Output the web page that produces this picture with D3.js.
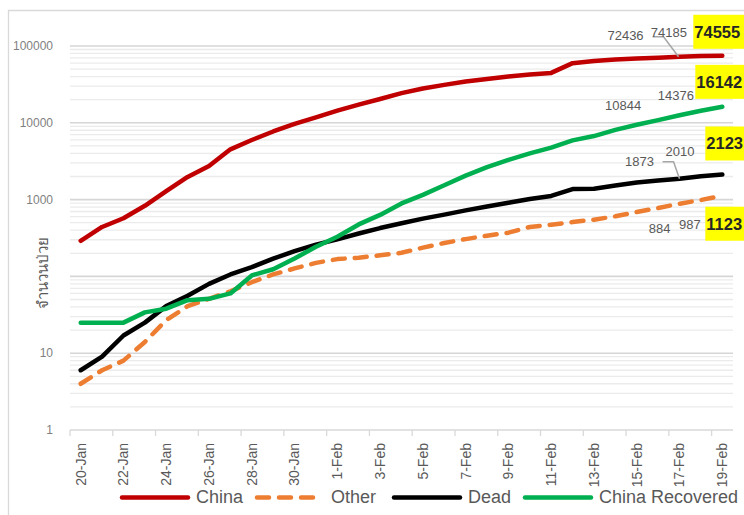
<!DOCTYPE html>
<html>
<head>
<meta charset="utf-8">
<script src="https://cdn.jsdelivr.net/npm/d3@7"></script>
<style>
  body { margin: 0; background: #fff; }
  svg { display: block; font-family: 'Liberation Sans', Arial, sans-serif; }
</style>
</head>
<body>
<svg id="chart" width="744" height="515"></svg>
<script>
// data
const dates = ['20-Jan', '21-Jan', '22-Jan', '23-Jan', '24-Jan', '25-Jan', '26-Jan', '27-Jan',
  '28-Jan', '29-Jan', '30-Jan', '31-Jan', '1-Feb', '2-Feb', '3-Feb', '4-Feb', '5-Feb', '6-Feb',
  '7-Feb', '8-Feb', '9-Feb', '10-Feb', '11-Feb', '12-Feb', '13-Feb', '14-Feb', '15-Feb',
  '16-Feb', '17-Feb', '18-Feb', '19-Feb']
const china = [291, 440, 571, 830, 1287, 1975, 2744, 4515, 5974, 7711, 9692, 11791,
  14380, 17205, 20438, 24324, 28018, 31161, 34546, 37198, 40171, 42638, 44653, 59804,
  63851, 66492, 68500, 70548, 72436, 74185, 74555]
const other = [4, 6, 8, 14, 27, 41, 51, 64, 84, 106, 127, 150,
  168, 175, 188, 203, 237, 272, 306, 339, 371, 440, 471, 510,
  548, 606, 689, 777, 884, 987, 1123]
const dead = [6, 9, 17, 25, 41, 56, 80, 106, 132, 170, 213, 259,
  304, 362, 426, 492, 565, 638, 724, 813, 910, 1018, 1115, 1369,
  1383, 1526, 1669, 1775, 1873, 2010, 2123]
const recovered = [25, 25, 25, 34, 38, 49, 51, 60, 103, 124, 171, 243,
  328, 475, 632, 892, 1153, 1540, 2050, 2649, 3281, 3996, 4740, 5911,
  6723, 8096, 9419, 10844, 12552, 14376, 16142]
const yTickValues = [1, 10, 1000, 10000, 100000]
const seriesNames = ['China', 'Other', 'Dead', 'China Recovered']
const yTitle = 'จำนวนป่วย'

const series = [
  { name: seriesNames[0], values: china, color: '#c00000', dash: null },
  { name: seriesNames[1], values: other, color: '#ed7d31', dash: '12,10' },
  { name: seriesNames[2], values: dead, color: '#000000', dash: null },
  { name: seriesNames[3], values: recovered, color: '#00b050', dash: null }
]

const svg = d3.select('#chart')

// scales
const x = d3.scaleBand().domain(dates).range([70, 733])
const cx = d => x(d) + x.bandwidth() / 2
const y = d3.scaleLog().domain([1, 100000]).range([430, 46])

// chart border (top / left only visible)
svg.append('path')
  .attr('d', 'M8.5,530V10.5H760')
  .attr('fill', 'none')
  .attr('stroke', '#d9d9d9')
  .attr('stroke-width', 1.3)

// minor gridlines
const minor = []
for (let k = 0; k < 5; k++) {
  for (let m = 2; m <= 9; m++) minor.push(m * Math.pow(10, k))
}
svg.append('g').selectAll('line').data(minor).join('line')
  .attr('x1', 70).attr('x2', 733)
  .attr('y1', d => y(d)).attr('y2', d => y(d))
  .attr('stroke', '#ebebeb')
  .attr('stroke-width', 1.3)

// major gridlines
svg.append('g').selectAll('line').data([10, 100, 1000, 10000, 100000]).join('line')
  .attr('x1', 70).attr('x2', 733)
  .attr('y1', d => y(d)).attr('y2', d => y(d))
  .attr('stroke', '#d6d6d6')
  .attr('stroke-width', 1.6)

// x axis
const xAxisG = svg.append('g')
xAxisG.append('line')
  .attr('x1', 70).attr('x2', 733)
  .attr('y1', y(1)).attr('y2', y(1))
  .attr('stroke', '#d9d9d9').attr('stroke-width', 1.6)
xAxisG.selectAll('.tick').data(dates.filter((d, i) => i % 2 === 0)).join('line')
  .attr('class', 'tick')
  .attr('x1', d => x(d)).attr('x2', d => x(d))
  .attr('y1', y(1)).attr('y2', y(1) + 6)
  .attr('stroke', '#d9d9d9').attr('stroke-width', 1.3)
xAxisG.selectAll('text').data(dates.filter((d, i) => i % 2 === 0)).join('text')
  .attr('transform', d => 'translate(' + cx(d) + ',443) rotate(-90)')
  .attr('text-anchor', 'end')
  .attr('dy', '0.35em')
  .attr('font-size', 14)
  .attr('fill', '#595959')
  .text(d => d)

// y axis labels
svg.append('g').selectAll('text').data(yTickValues).join('text')
  .attr('x', 53)
  .attr('y', d => y(d))
  .attr('dy', '0.35em')
  .attr('text-anchor', 'end')
  .attr('font-size', 12)
  .attr('fill', '#7f7f7f')
  .text(d => d)

svg.append('text')
  .attr('transform', 'translate(43,273) rotate(-90)')
  .attr('text-anchor', 'middle')
  .attr('dy', '0.35em')
  .attr('font-size', 15)
  .attr('fill', '#595959')
  .text(yTitle)

// lines
const lineGen = d3.line()
  .x((d, i) => cx(dates[i]))
  .y(d => y(d))

svg.append('g').selectAll('path').data(series).join('path')
  .attr('d', d => lineGen(d.values))
  .attr('fill', 'none')
  .attr('stroke', d => d.color)
  .attr('stroke-width', 4.5)
  .attr('stroke-linejoin', 'round')
  .attr('stroke-linecap', 'round')
  .attr('stroke-dasharray', d => d.dash)

// data labels (offsets from their point)
const last = dates.length - 1
const labels = [
  { s: china, i: 28, dx: -54, dy: -21, leader: [[-27, -20], [-16, -20], [-1, 0]] },
  { s: china, i: 29, dx: -32, dy: -24 },
  { s: recovered, i: 27, dx: -35, dy: -15 },
  { s: recovered, i: 29, dx: -25, dy: -15 },
  { s: dead, i: 28, dx: -40, dy: -17, leader: [[-17, -17], [-6, -17], [0, 0]] },
  { s: dead, i: 29, dx: -21, dy: -25 },
  { s: other, i: 28, dx: -20, dy: 25 },
  { s: other, i: 29, dx: -11, dy: 24 }
]
const labG = svg.append('g')
labels.forEach(l => {
  const px = cx(dates[l.i])
  const py = y(l.s[l.i])
  if (l.leader) {
    labG.append('path')
      .attr('d', d3.line()(l.leader.map(p => [px + p[0], py + p[1]])))
      .attr('fill', 'none')
      .attr('stroke', '#a6a6a6')
      .attr('stroke-width', 1.5)
  }
  labG.append('text')
    .attr('x', px + l.dx)
    .attr('y', py + l.dy)
    .attr('dy', '0.35em')
    .attr('text-anchor', 'middle')
    .attr('font-size', 13)
    .attr('fill', '#595959')
    .text(l.s[l.i])
})

// highlighted last values
const boxes = [
  { s: china, dx: -29, top: -41 },
  { s: recovered, dx: -27, top: -42 },
  { s: dead, dx: -17, top: -48 },
  { s: other, dx: -17, top: 11 }
]
boxes.forEach(b => {
  const px = cx(dates[last])
  const py = y(b.s[last])
  labG.append('rect')
    .attr('x', px + b.dx).attr('y', py + b.top)
    .attr('width', 70).attr('height', 34)
    .attr('fill', '#ffff00')
  labG.append('text')
    .attr('x', px + b.dx + 1)
    .attr('y', py + b.top + 17)
    .attr('dy', '0.35em')
    .attr('font-size', 16.5)
    .attr('font-weight', 'bold')
    .attr('fill', '#262626')
    .text(b.s[last])
})

// legend
const legendX = [120, 255, 392, 523]
const legendY = 497.5
const leg = svg.append('g').selectAll('g').data(series).join('g')
  .attr('transform', (d, i) => 'translate(' + legendX[i] + ',' + legendY + ')')
leg.append('line')
  .attr('x1', 2).attr('x2', 68)
  .attr('stroke', d => d.color)
  .attr('stroke-width', 4.5)
  .attr('stroke-linecap', 'round')
  .attr('stroke-dasharray', d => d.dash)
leg.append('text')
  .attr('x', 76)
  .attr('y', 5)
  .attr('font-size', 18)
  .attr('fill', '#595959')
  .text(d => d.name)
</script>
</body>
</html>
